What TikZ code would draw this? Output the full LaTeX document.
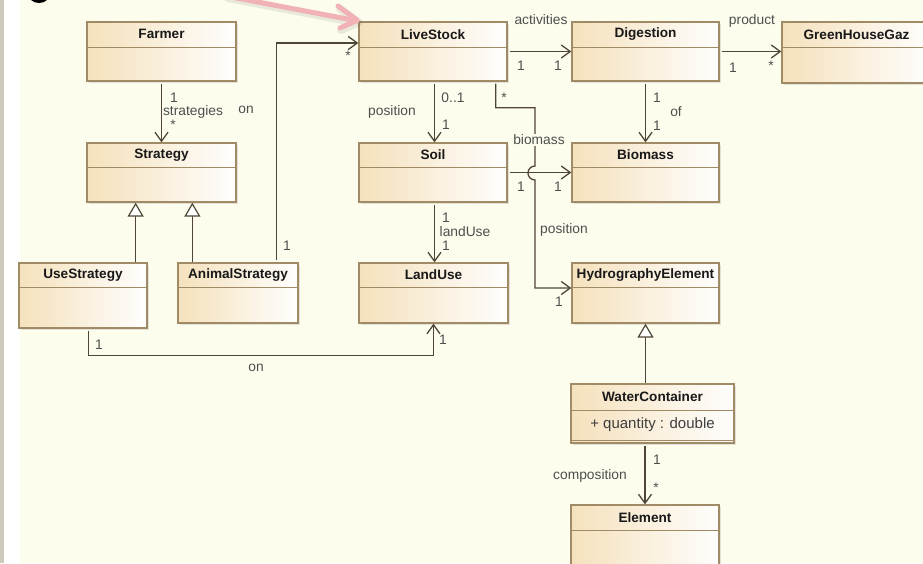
\documentclass[tikz,border=0pt]{standalone}
\usepackage{fontspec}
\setmainfont{Liberation Sans}
\usetikzlibrary{arrows.meta,shadows,calc}

\definecolor{paper}{RGB}{253,253,238}
\definecolor{strip}{RGB}{205,201,187}
\definecolor{clsborder}{RGB}{160,139,102}
\definecolor{clstan}{RGB}{245,225,188}
\definecolor{wire}{RGB}{80,70,55}
\definecolor{lbl}{RGB}{78,78,78}
\definecolor{ttl}{RGB}{25,25,25}
\definecolor{marker}{RGB}{240,178,180}

\tikzset{
  clsbox/.style={rectangle, inner sep=0pt, draw=clsborder, line width=1.3pt,
    left color=clstan, right color=white!97!clstan,
    drop shadow={shadow xshift=2pt, shadow yshift=-2pt, opacity=0.22}},
  sep/.style={draw=clsborder, line width=1.2pt},
  clstitle/.style={inner sep=0pt, text=ttl, font=\fontsize{13.6}{16}\selectfont\bfseries},
  attr/.style={inner sep=0pt, text=lbl!80!black, font=\fontsize{15}{18}\selectfont},
  lbl/.style={inner sep=0pt, text=lbl, font=\fontsize{13.8}{16}\selectfont},
  assoc/.style={draw=wire, line width=1.3pt, shorten <=2pt,
    -{Straight Barb[length=9pt,width=13pt,line width=1.3pt]}},
  gen/.style={draw=wire, line width=1.3pt,
    -{Triangle[open,length=14pt,width=16pt,fill=white,line width=1.2pt]}},
}

% class box: name, x1, y1, x2, y2, header height, title
\newcommand\umlclass[7]{%
  \node[clsbox, minimum width={#4-#2}, minimum height={#5-#3}]
    (#1) at ({(#2+#4)/2},{(#3+#5)/2}) {};
  \draw[sep] ($(#1.north west)+(0,#6)$) -- ($(#1.north east)+(0,#6)$);
  \node[clstitle] (#1-title) at ($(#1.north)+(0,#6/2)$) {#7};
}

\begin{document}
\begin{tikzpicture}[x=1pt,y=-1pt]
\useasboundingbox (0,0) rectangle (923,563);
\clip (0,0) rectangle (923,563);

% window background
\fill[strip] (0,0) rectangle (4,563);
\fill[white] (4,0) rectangle (20,563);
\fill[paper] (20,0) rectangle (923,563);
\fill[black] (31,0) .. controls (35,4) and (43,4) .. (47,0) -- cycle;

% classes
\umlclass{farmer}{87}{22}{236}{81}{26}{Farmer}
\umlclass{strategy}{87}{143}{236}{202}{25}{Strategy}
\umlclass{usestrat}{19}{263}{147}{328}{25}{UseStrategy}
\umlclass{animal}{178}{263}{298}{323}{25}{AnimalStrategy}
\umlclass{livestock}{359}{22}{507}{81}{26}{LiveStock}
\umlclass{soil}{359}{143}{507}{202}{25}{Soil}
\umlclass{landuse}{359}{263}{508}{323}{25}{LandUse}
\umlclass{digestion}{572}{22}{719}{81}{26}{Digestion}
\umlclass{biomass}{572}{143}{719}{202}{25}{Biomass}
\umlclass{ghg}{782}{22}{931}{83}{26}{GreenHouseGaz}
\umlclass{hydro}{572}{263}{719}{323}{25}{HydrographyElement}
\umlclass{water}{571}{384}{734}{443}{27}{WaterContainer}
\umlclass{element}{571}{505}{719}{578}{26}{Element}
\node[attr] (water-attr) at (652.5,425) {+ quantity : double};
\draw[sep] ($(water.south west)+(0,-3)$) -- ($(water.south east)+(0,-3)$);

% hop where the position link crosses Soil -> Biomass
\coordinate (hopA) at (535,166);

% associations and generalizations
\draw[assoc] (farmer.south) -- (strategy.north);
\draw[gen] ([xshift=-12pt]usestrat.north east) coordinate (us-top) -- (us-top |- strategy.south);
\draw[gen] ([xshift=15pt]animal.north west) coordinate (as-top) -- (as-top |- strategy.south);
\draw[assoc] ([xshift=-22pt]animal.north east) |- ([yshift=8.5pt]livestock.west);
\draw[assoc] ([xshift=70pt]usestrat.south west) -- ++(0,27) -| (landuse.south);
\draw[assoc] (livestock.east) -- (digestion.west);
\draw[assoc] (digestion.east) -- (digestion.east -| ghg.west);
\draw[assoc] (digestion.south) -- (biomass.north);
\draw[assoc] ([xshift=1.5pt]livestock.south) coordinate (ls-bot) -- (ls-bot |- soil.north);
\draw[assoc] (soil.east) -- (biomass.west);
\draw[assoc] ([xshift=1.5pt]soil.south) coordinate (so-bot) -- (so-bot |- landuse.north);
\draw[assoc] ([xshift=-12pt]livestock.south east) -- ++(0,26) -| (hopA)
  arc[start angle=270, end angle=90, radius=7] |- ([yshift=5pt]hydro.west);
\draw[gen] (hydro.south |- water.north) -- (hydro.south);
\draw[assoc] (element.north |- water.south) -- (element.north);

% role names and multiplicities
\node[lbl] (l-fs1) at (174,98) {1};
\node[lbl] (l-fs2) at (193,112) {strategies};
\node[lbl] (l-fs3) at (173,125) {*};
\node[lbl] (l-on1) at (246,110) {on};
\node[lbl] (l-as1) at (287,246) {1};
\node[lbl] (l-as2) at (348,56) {*};
\node[lbl] (l-ul1) at (99,345) {1};
\node[lbl] (l-ul2) at (256,368) {on};
\node[lbl] (l-ul3) at (443,340) {1};
\node[lbl] (l-ld1) at (541,20) {activities};
\node[lbl] (l-ld2) at (521,66) {1};
\node[lbl] (l-ld3) at (558,66) {1};
\node[lbl] (l-dg1) at (752,21) {product};
\node[lbl] (l-dg2) at (733,68) {1};
\node[lbl] (l-dg3) at (771,66) {*};
\node[lbl] (l-db1) at (657,98) {1};
\node[lbl] (l-db2) at (676,112) {of};
\node[lbl] (l-db3) at (657,126) {1};
\node[lbl] (l-ls1) at (453,98) {0..1};
\node[lbl] (l-ls2) at (392,112) {position};
\node[lbl] (l-ls3) at (446,125) {1};
\node[lbl] (l-lh1) at (504,98) {*};
\node[lbl, fill=paper, inner sep=1pt] (l-lh2) at (539,140) {biomass};
\node[lbl] (l-lh3) at (564,230) {position};
\node[lbl] (l-lh4) at (559,302) {1};
\node[lbl] (l-sb1) at (521,187) {1};
\node[lbl] (l-sb2) at (558,187) {1};
\node[lbl] (l-sl1) at (446,218) {1};
\node[lbl] (l-sl2) at (465,232) {landUse};
\node[lbl] (l-sl3) at (446,246) {1};
\node[lbl] (l-we1) at (657,460) {1};
\node[lbl] (l-we2) at (590,476) {composition};
\node[lbl] (l-we3) at (656,488) {*};

% highlight pointer
\draw[black, opacity=0.08, line width=8pt, line cap=round, line join=round]
  (228,-2) -- ([shift={(-3,1)}]livestock.north west)
  (340,9) -- ([shift={(0,1)}]livestock.north west) -- (341,30);
\draw[marker, line width=5pt, line cap=round] (226,-4) -- ([shift={(-4,-1)}]livestock.north west);
\draw[marker, line width=5pt, line cap=round, line join=round]
  (338,6) -- ([shift={(-1,-1)}]livestock.north west) -- (340,28);
\end{tikzpicture}
\end{document}
